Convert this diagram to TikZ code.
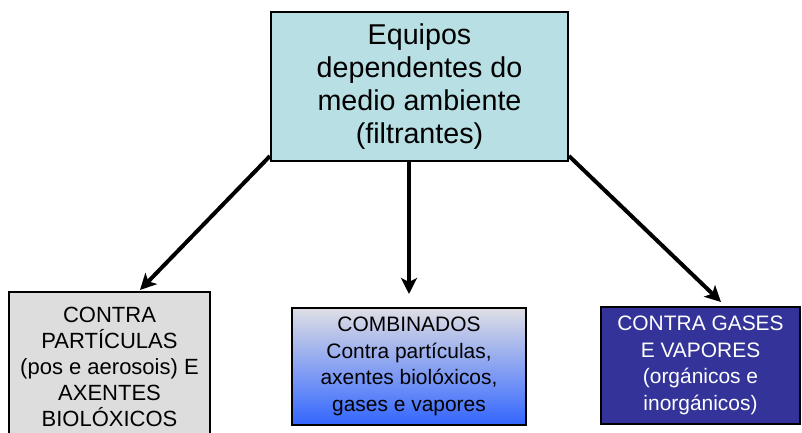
\documentclass[tikz,border=0pt]{standalone}
\usepackage{fontspec}
\setmainfont{Liberation Sans}
\usetikzlibrary{arrows.meta,calc}
\definecolor{topfill}{RGB}{184,223,228}
\definecolor{leftfill}{RGB}{221,221,221}
\definecolor{midtop}{RGB}{222,222,228}
\definecolor{midbot}{RGB}{51,102,255}
\definecolor{rightfill}{RGB}{51,51,153}
\tikzset{
  boxbase/.style={draw=black, line width=1.5pt, align=center, inner sep=0pt, anchor=center},
  conn/.style={line width=3pt, -{Stealth[length=12pt,width=12pt,inset=3pt]}},
  topfont/.style={font=\fontsize{21.5pt}{24.75pt}\selectfont},
  leftfont/.style={font=\fontsize{16.5pt}{19.5pt}\selectfont},
  smallfont/.style={font=\fontsize{15.7pt}{20pt}\selectfont},
}
\begin{document}
\begin{tikzpicture}[x=0.75pt,y=-0.75pt]
\useasboundingbox (0,0) rectangle (802,432);
\clip (0,0) rectangle (802,432);
\fill[white] (0,0) rectangle (802,432);
\node[boxbase, fill=topfill, minimum width=222.75pt, minimum height=111.75pt, topfont] (top) at (419.5,86.5)
  {Equipos\\dependentes do\\medio ambiente\\(filtrantes)};
\node[boxbase, fill=leftfill, minimum width=150.75pt, minimum height=112.5pt, leftfont] (left) at (109.5,367)
  {CONTRA\\PARTÍCULAS\\(pos e aerosois) E\\AXENTES\\BIOLÓXICOS};
\node[boxbase, top color=midtop, bottom color=midbot, minimum width=175.5pt, minimum height=87.75pt, smallfont] (mid) at (409,366.5)
  {COMBINADOS\\Contra partículas,\\axentes biolóxicos,\\gases e vapores};
\node[boxbase, fill=rightfill, text=white, minimum width=149.25pt, minimum height=87.75pt, smallfont] (right) at (700.5,365.5)
  {CONTRA GASES\\E VAPORES\\(orgánicos e\\inorgánicos)};
\coordinate (e1) at (140,290);
\coordinate (e2) at (409,294);
\coordinate (e3) at (721,302);
\draw[conn] ($(top.south west)+(0,-6)$) -- (e1);
\draw[conn] (top.south -| e2) -- (e2);
\draw[conn] ($(top.south east)+(0,-6)$) -- (e3);
\end{tikzpicture}
\end{document}
